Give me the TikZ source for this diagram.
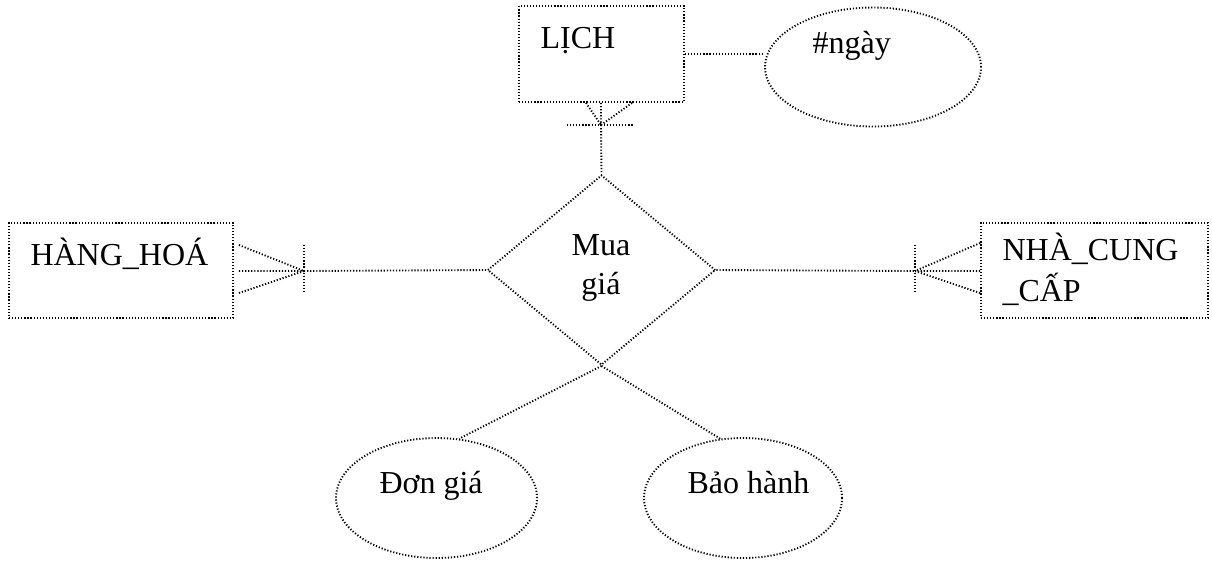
\documentclass[tikz,border=0pt]{standalone}
\usepackage{fontspec}
\setmainfont{Liberation Serif}
\usetikzlibrary{shapes.geometric,calc}
% one drawing unit in points
\newcommand\pxu{0.375pt}
\begin{document}
\begin{tikzpicture}[x=0.375pt,y=-0.375pt,
  every node/.style={font=\fontsize{12}{14}\selectfont},
  dots/.style={line width=0.7pt, dash pattern=on 0.45pt off 0.7pt},
  entity/.style={dots, draw, rectangle, inner sep=0pt},
  attr/.style={dots, draw, ellipse, inner sep=0pt},
  rel/.style={dots, draw, diamond, inner sep=0pt},
  lbl/.style={anchor=base west, inner sep=0pt},
  clbl/.style={anchor=base, inner sep=0pt},
]
\useasboundingbox (0,0) rectangle (1212,560);

% entities
\node[entity, minimum width=165*\pxu, minimum height=96*\pxu] (lich) at (601.5,54) {};
\node[lbl] (lichtxt) at (540,48) {LỊCH};
\node[entity, minimum width=224*\pxu, minimum height=95*\pxu] (hang) at (121,270.5) {};
\node[lbl] (hangtxt) at (30,265) {HÀNG\_HOÁ};
\node[entity, minimum width=227*\pxu, minimum height=95*\pxu] (ncc) at (1094.5,270.5) {};
\node[lbl] (ncc1) at (1002,260) {NHÀ\_CUNG};
\node[lbl] (ncc2) at (1002,301) {\_CẤP};

% relationship
\node[rel, minimum width=228*\pxu, minimum height=190*\pxu] (mua) at (601.5,270) {};
\node[clbl] (mua1) at (601,255) {Mua};
\node[clbl] (mua2) at (601,294) {giá};

% attributes
\node[attr, minimum width=216*\pxu, minimum height=119*\pxu] (ngay) at (873,67) {};
\node[lbl] (ngaytxt) at (812,53) {\#ngày};
\node[attr, minimum width=201*\pxu, minimum height=120*\pxu] (don) at (436.5,498) {};
\node[lbl] (dontxt) at (379,493) {Đơn giá};
\node[attr, minimum width=198*\pxu, minimum height=120*\pxu] (bao) at (743,498) {};
\node[lbl] (baotxt) at (687,493) {Bảo hành};

% key attribute of LỊCH
\draw[dots] (lich.east) -- (lich.east -| ngay.west);

% LỊCH -- Mua giá, crow's foot at the entity
\coordinate (lf) at (601,125);
\draw[dots] (lf) -- (mua.north);
\draw[dots] ($(lich.south)+(-15.5,0)$) -- (lf)
            ($(lich.south)+(-0.5,0)$) -- (lf)
            ($(lich.south)+(30.5,0)$) -- (lf);
\draw[dots] ($(lf)+(-34,0)$) -- ($(lf)+(32,0)$);

% HÀNG_HOÁ -- Mua giá
\coordinate (hf) at (304,271);
\draw[dots] (hf) -- (mua.west);
\draw[dots] ($(hang.east)+(5,-25.5)$) -- (hf)
            ($(hang.east)+(5,0.5)$) -- (hf)
            ($(hang.east)+(5,22.5)$) -- (hf);
\draw[dots] ($(hf)+(0,-26)$) -- ($(hf)+(0,22)$);

% NHÀ_CUNG_CẤP -- Mua giá
\coordinate (nf) at (915,271);
\draw[dots] (mua.east) -- (nf);
\draw[dots] ($(ncc.west)+(0,-27.5)$) -- (nf)
            ($(ncc.west)+(0,0.5)$) -- (nf)
            ($(ncc.west)+(0,22.5)$) -- (nf);
\draw[dots] ($(nf)+(0,-26)$) -- ($(nf)+(0,22)$);

% attributes of the relationship
\draw[dots] (mua.south) -- (don.69.5);
\draw[dots] (mua.south) -- (bao.111);
\end{tikzpicture}
\end{document}
